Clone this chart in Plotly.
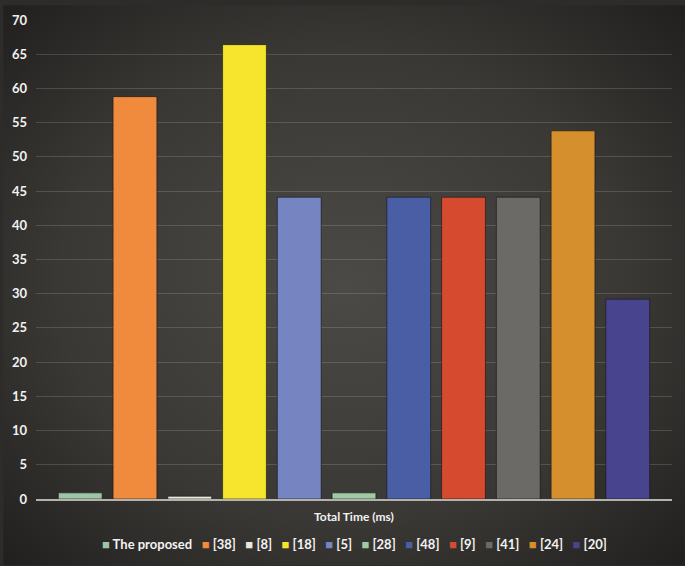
import base64
import plotly.graph_objects as go

category = ["Total Time (ms)"]
series = ["The proposed", "[38]", "[8]", "[18]", "[5]", "[28]", "[48]", "[9]", "[41]", "[24]", "[20]"]
values = [0.9, 58.8, 0.4, 66.4, 44.1, 0.9, 44.1, 44.1, 44.1, 53.8, 29.2]
colors = ["#9cc6a6", "#f08a3c", "#ebe7dc", "#f6e52c", "#7684c2", "#a0caa2",
          "#4a5ea6", "#d64a30", "#6c6a66", "#d58f2c", "#48458e"]
y_ticks = list(range(0, 75, 5))

W, H = 685, 566
L, R, T, B = 33, 13, 15, 67

# dark radial background like the original office-style chart
svg = f'''<svg xmlns="http://www.w3.org/2000/svg" width="{W}" height="{H}" viewBox="0 0 {W} {H}" preserveAspectRatio="none">
<defs><radialGradient id="g" cx="50%" cy="50%" r="70%">
<stop offset="0%" stop-color="#4c4a47"/><stop offset="60%" stop-color="#3a3835"/>
<stop offset="100%" stop-color="#22201e"/></radialGradient></defs>
<rect width="{W}" height="{H}" fill="url(#g)"/></svg>'''
bg = "data:image/svg+xml;base64," + base64.b64encode(svg.encode()).decode()

fig = go.Figure()
for name, v, c in zip(series, values, colors):
    fig.add_trace(go.Bar(x=category, y=[v], name=name, showlegend=False,
                         marker=dict(color=c, line=dict(color="rgba(20,20,20,0.6)", width=1))))

pw, ph = W - L - R, H - T - B
fig.add_layout_image(source=bg, xref="paper", yref="paper", x=-L / pw, y=1 + T / ph,
                     sizex=W / pw, sizey=H / ph, sizing="stretch", layer="below")

# legend drawn as one line of text with coloured squares
legend_txt = "&nbsp;&nbsp;&nbsp;".join(
    f"<span style='color:{c}'>■</span> {n}" for n, c in zip(series, colors))
fig.add_annotation(text=legend_txt, xref="paper", yref="paper", x=0.5, y=(B - 22) / -ph,
                   xanchor="center", yanchor="middle", showarrow=False,
                   font=dict(size=13, color="#f2f2f2", weight="bold"))

fig.update_layout(
    width=W, height=H,
    margin=dict(l=L, r=R, t=T, b=B),
    paper_bgcolor="#2e2c2a", plot_bgcolor="rgba(0,0,0,0)",
    barmode="group", bargap=0.053, bargroupgap=0.2,
    font=dict(family="Lato", color="#f2f2f2", size=12, weight="bold"),
    showlegend=False,
)
fig.update_xaxes(showgrid=False, showline=True, linecolor="#b4b2ac", linewidth=2,
                 ticks="", ticklabelstandoff=6,
                 tickfont=dict(size=12, color="#f2f2f2", weight="bold"))
fig.update_yaxes(range=[0, 70], tickvals=y_ticks, showgrid=True,
                 gridcolor="rgba(255,255,255,0.15)", gridwidth=1, zeroline=False,
                 showline=False, ticks="", ticklabelstandoff=8,
                 tickfont=dict(size=13, color="#f2f2f2", weight="bold"))

fig.write_html("out.html", config={"displayModeBar": False},
               post_script="document.body.style.margin='0px';")
